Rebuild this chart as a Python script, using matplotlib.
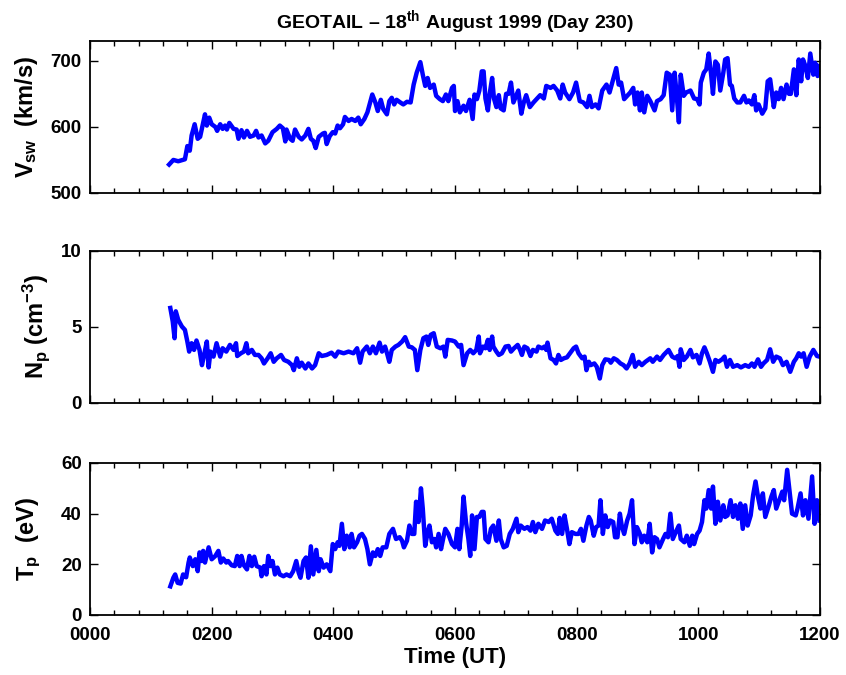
import numpy as np
import matplotlib.pyplot as plt

# Solar wind speed (km/s) versus time (hours UT)
vsw_t = [1.30, 1.37, 1.45, 1.56, 1.60, 1.64, 1.67, 1.72, 1.77, 1.81, 1.89, 1.92, 1.96, 2.00, 2.06,
         2.09, 2.14, 2.18, 2.22, 2.25, 2.29, 2.36, 2.41, 2.44, 2.49, 2.53, 2.58, 2.63, 2.69, 2.73,
         2.77, 2.82, 2.88, 2.93, 3.00, 3.07, 3.12, 3.17, 3.21, 3.23, 3.29, 3.33, 3.37, 3.43, 3.48,
         3.54, 3.59, 3.63, 3.67, 3.71, 3.76, 3.83, 3.86, 3.89, 3.94, 3.99, 4.03, 4.07, 4.11, 4.16,
         4.19, 4.25, 4.30, 4.36, 4.41, 4.45, 4.51, 4.56, 4.61, 4.64, 4.69, 4.73, 4.78, 4.82, 4.88,
         4.92, 4.96, 5.00, 5.04, 5.10, 5.15, 5.21, 5.27, 5.32, 5.37, 5.43, 5.47, 5.51, 5.55, 5.59,
         5.65, 5.69, 5.75, 5.80, 5.85, 5.89, 5.95, 5.98, 6.00, 6.04, 6.08, 6.14, 6.18, 6.24,
         6.29, 6.32, 6.36, 6.40, 6.44, 6.47, 6.50, 6.54, 6.57, 6.61, 6.64, 6.68, 6.72, 6.75, 6.80,
         6.84, 6.88, 6.92, 6.96, 7.01, 7.04, 7.09, 7.13, 7.17, 7.23, 7.29, 7.35, 7.40, 7.46, 7.50,
         7.57, 7.62, 7.68, 7.73, 7.77, 7.81, 7.88, 7.94, 7.99, 8.05, 8.11, 8.17, 8.21, 8.25, 8.31,
         8.36, 8.42, 8.49, 8.54, 8.60, 8.65, 8.69, 8.73, 8.78, 8.84, 8.88, 8.93, 8.96, 9.00, 9.04,
         9.07, 9.11, 9.16, 9.21, 9.28, 9.32, 9.38, 9.43, 9.48, 9.53, 9.57, 9.61, 9.64, 9.68, 9.71,
         9.76, 9.80, 9.87, 9.93, 9.98, 10.02, 10.04, 10.09, 10.13, 10.17, 10.21, 10.24, 10.28, 10.32,
         10.36, 10.41, 10.44, 10.48, 10.52, 10.55, 10.59, 10.64, 10.69, 10.75, 10.79, 10.83, 10.88,
         10.92, 10.95, 10.99, 11.05, 11.10, 11.14, 11.18, 11.24, 11.28, 11.32, 11.36, 11.40, 11.45,
         11.49, 11.52, 11.57, 11.61, 11.65, 11.69, 11.72, 11.76, 11.80, 11.84, 11.89, 11.92, 11.96,
         11.99]
vsw = [543, 550, 548, 551, 571, 564, 587, 604, 582, 585, 619, 602, 614, 604, 600,
       594, 604, 597, 602, 596, 606, 597, 596, 582, 595, 584, 594, 585, 587, 594,
       584, 587, 575, 579, 592, 597, 602, 598, 578, 596, 582, 579, 596, 585, 581,
       587, 597, 582, 579, 568, 585, 590, 591, 574, 586, 592, 590, 602, 598, 604,
       615, 609, 612, 609, 614, 604, 612, 622, 639, 649, 637, 624, 641, 627, 619,
       639, 644, 634, 641, 637, 634, 638, 637, 664, 682, 698, 679, 662, 674, 659,
       664, 647, 642, 639, 649, 639, 659, 662, 624, 639, 622, 632, 624, 641,
       612, 649, 642, 655, 684, 684, 643, 625, 650, 674, 643, 630, 648, 628, 625,
       650, 650, 667, 637, 648, 655, 620, 637, 648, 630, 637, 643, 648, 643, 662,
       659, 662, 655, 643, 664, 652, 642, 652, 667, 639, 637, 630, 647, 630, 634,
       628, 655, 664, 652, 672, 689, 664, 667, 642, 648, 652, 659, 634, 652, 625,
       652, 622, 647, 639, 625, 639, 642, 648, 682, 679, 625, 682, 652, 607, 679,
       647, 652, 655, 643, 642, 634, 667, 682, 687, 711, 679, 650, 699, 694,
       655, 682, 702, 704, 664, 662, 643, 637, 637, 647, 637, 640, 634,
       648, 625, 634, 620, 628, 669, 672, 630, 652, 642, 659, 642, 664,
       650, 650, 687, 648, 702, 669, 702, 692, 674, 711, 679, 697, 677,
       692]

# Proton density (cm^-3)
np_t = [1.32, 1.36, 1.39, 1.41, 1.45, 1.51, 1.56, 1.60, 1.63, 1.67, 1.71, 1.75, 1.80, 1.84, 1.87,
        1.92, 1.95, 1.98, 2.03, 2.08, 2.14, 2.18, 2.24, 2.30, 2.36, 2.40, 2.42, 2.48, 2.53, 2.57,
        2.60, 2.66, 2.71, 2.77, 2.82, 2.86, 2.92, 2.97, 3.02, 3.07, 3.14, 3.19, 3.26, 3.32, 3.35,
        3.40, 3.44, 3.48, 3.54, 3.59, 3.65, 3.70, 3.76, 3.81, 3.89, 3.97, 4.03, 4.08, 4.17, 4.25,
        4.33, 4.39, 4.44, 4.48, 4.55, 4.60, 4.65, 4.70, 4.76, 4.80, 4.85, 4.89, 4.92, 4.96, 5.02,
        5.07, 5.13, 5.18, 5.24, 5.29, 5.34, 5.38, 5.43, 5.48, 5.53, 5.56, 5.60, 5.65, 5.70, 5.76,
        5.81, 5.84, 5.88, 5.95, 6.00, 6.06, 6.10, 6.14, 6.20, 6.25,
        6.30, 6.35, 6.39, 6.41, 6.46, 6.50, 6.54, 6.57, 6.61, 6.63, 6.68, 6.72, 6.77, 6.83, 6.88,
        6.92, 6.97, 7.03, 7.07, 7.10, 7.14, 7.19, 7.24, 7.28, 7.34, 7.37, 7.43, 7.47, 7.50, 7.52,
        7.57, 7.62, 7.66, 7.70, 7.74, 7.79, 7.84, 7.89, 7.95, 7.99, 8.03, 8.09, 8.13, 8.16, 8.20,
        8.23, 8.29, 8.33, 8.38, 8.42, 8.47, 8.53, 8.56, 8.61, 8.66, 8.72, 8.77, 8.82, 8.87, 8.92,
        8.96, 9.02, 9.07, 9.13, 9.21, 9.25, 9.32, 9.37, 9.43, 9.51, 9.57, 9.62, 9.66, 9.69, 9.71,
        9.76, 9.81, 9.87, 9.91, 9.97, 10.02, 10.06, 10.10, 10.14, 10.19, 10.24, 10.28, 10.33, 10.39,
        10.43, 10.47, 10.52, 10.57, 10.64, 10.70, 10.77, 10.83, 10.88, 10.92, 10.98, 11.03, 11.07,
        11.13, 11.18, 11.23, 11.28, 11.34, 11.39, 11.45, 11.51, 11.57, 11.61, 11.65, 11.69, 11.73,
        11.78, 11.83, 11.89, 11.95, 11.99]
np_vals = [6.25, 5.36, 4.26, 6.03, 5.47, 5.03, 4.81, 4.04, 3.38, 3.93, 3.49, 4.11, 3.49, 2.49, 3.05,
           4.04, 2.34, 3.38, 3.05, 3.93, 3.05, 3.60, 3.38, 3.82, 3.49, 3.93, 3.09, 3.27, 3.38, 3.93,
           3.27, 3.49, 3.16, 3.16, 2.94, 2.60, 2.94, 3.27, 2.71, 2.94, 3.16, 2.83, 2.71, 2.49, 2.16,
           2.94, 2.38, 2.65, 2.27, 2.60, 2.27, 2.49, 3.27, 3.09, 3.16, 3.31, 3.05, 3.38, 3.27, 3.38,
           3.27, 3.60, 2.65, 3.38, 3.71, 3.27, 3.71, 3.27, 3.97, 3.38, 3.71, 3.16, 2.71, 3.49, 3.71,
           3.82, 4.04, 4.33, 3.71, 3.66, 3.49, 2.16, 3.49, 4.26, 4.37, 3.82, 4.48, 4.59, 3.71, 3.60,
           3.71, 3.05, 4.15, 4.11, 4.04, 3.71, 3.82, 2.49, 3.27, 3.49,
           3.27, 3.49, 4.37, 3.27, 3.71, 3.60, 4.15, 3.49, 4.37, 3.71, 3.38, 3.16, 3.27, 3.71, 3.75,
           3.38, 3.60, 3.82, 3.49, 3.16, 3.71, 3.60, 3.09, 3.49, 3.38, 3.71, 3.60, 3.71, 3.49, 3.97,
           2.94, 2.83, 2.60, 3.16, 2.83, 2.94, 3.00, 3.27, 3.60, 3.71, 3.27, 2.94, 3.05, 2.16, 2.71,
           2.49, 2.60, 2.38, 1.61, 2.49, 2.87, 2.83, 2.65, 2.94, 2.83, 2.60, 2.49, 2.27, 2.60, 3.16,
           2.38, 2.71, 2.49, 2.71, 2.94, 2.71, 3.05, 2.83, 3.16, 3.49, 3.05, 2.94, 3.09, 2.38, 3.53,
           2.83, 3.05, 3.49, 3.00, 3.16, 2.60, 3.27, 3.66, 3.27, 2.71, 2.05, 2.83, 2.71, 2.87,
           3.05, 2.38, 2.83, 2.38, 2.49, 2.34, 2.49, 2.38, 2.60, 2.38, 2.87, 2.38, 2.60,
           2.83, 3.53, 2.71, 3.05, 2.94, 2.49, 2.71, 2.05, 2.71, 2.94, 3.27, 3.05, 3.27,
           2.38, 3.05, 3.49, 3.09, 3.05]

# Proton temperature (eV)
tp_t = [1.32, 1.37, 1.40, 1.44, 1.49, 1.53, 1.58, 1.62, 1.64, 1.69, 1.73, 1.77, 1.80, 1.84, 1.86,
        1.89, 1.95, 2.00, 2.06, 2.11, 2.15, 2.19, 2.24, 2.27, 2.33, 2.38, 2.42, 2.46, 2.49, 2.53,
        2.58, 2.62, 2.66, 2.70, 2.74, 2.80, 2.82, 2.86, 2.90, 2.93, 2.97, 3.00, 3.04, 3.08, 3.12,
        3.18, 3.23, 3.29, 3.34, 3.39, 3.43, 3.46, 3.51, 3.55, 3.59, 3.63, 3.67, 3.72, 3.76, 3.79,
        3.84, 3.89, 3.95, 3.99, 4.03, 4.07, 4.10, 4.14, 4.18, 4.22, 4.27, 4.30, 4.34, 4.39, 4.43,
        4.47, 4.52, 4.56, 4.60, 4.65, 4.69, 4.73, 4.77, 4.81, 4.87, 4.92, 4.98, 5.03, 5.09, 5.13,
        5.16, 5.21, 5.25, 5.29, 5.33, 5.36, 5.40, 5.44, 5.47, 5.51, 5.55, 5.58, 5.62, 5.66, 5.69,
        5.73, 5.77, 5.81, 5.84, 5.89, 5.95, 6.00, 6.04, 6.07, 6.11, 6.14, 6.18, 6.22,
        6.25, 6.28, 6.32, 6.36, 6.40, 6.44, 6.47, 6.50, 6.55, 6.59, 6.63, 6.68, 6.72, 6.75, 6.80,
        6.85, 6.90, 6.95, 7.01, 7.04, 7.08, 7.14, 7.19, 7.24, 7.28, 7.32, 7.37, 7.43, 7.48, 7.54,
        7.59, 7.65, 7.69, 7.72, 7.76, 7.80, 7.84, 7.88, 7.92, 7.98, 8.03, 8.07, 8.11, 8.16, 8.20,
        8.23, 8.28, 8.32, 8.36, 8.39, 8.43, 8.47, 8.51, 8.55, 8.60, 8.63, 8.67, 8.71, 8.74, 8.78,
        8.83, 8.87, 8.91, 8.95, 8.99, 9.04, 9.07, 9.11, 9.16, 9.20, 9.24, 9.28, 9.32, 9.36, 9.42,
        9.46, 9.50, 9.54, 9.58, 9.64, 9.68, 9.71, 9.77, 9.81, 9.86, 9.90, 9.93, 9.98, 10.02, 10.06,
        10.10, 10.13, 10.17, 10.21, 10.24, 10.28, 10.32, 10.36, 10.41, 10.44, 10.48, 10.53, 10.57,
        10.61, 10.65, 10.69, 10.73, 10.77, 10.81, 10.86, 10.90, 10.94, 10.98, 11.02, 11.06, 11.10,
        11.16, 11.20, 11.24, 11.28, 11.32, 11.38, 11.41, 11.46, 11.50, 11.54, 11.60, 11.63, 11.68,
        11.72, 11.76, 11.81, 11.87, 11.91, 11.95, 11.99]
tp = [11.3, 14.7, 16.0, 12.7, 12.4, 16.0, 14.9, 20.7, 22.7, 19.3, 22.0, 17.3, 24.7, 21.3, 25.3,
      20.7, 26.7, 22.0, 23.3, 25.3, 20.7, 22.3, 20.7, 21.3, 19.6, 19.3, 23.3, 19.3, 23.3, 19.6,
      18.0, 23.3, 19.3, 23.0, 19.3, 18.7, 15.3, 19.3, 16.0, 23.3, 19.3, 21.3, 16.0, 18.7, 16.0,
      15.3, 16.0, 15.3, 17.3, 21.3, 16.7, 14.7, 21.3, 22.7, 14.7, 27.1, 16.0, 25.7, 17.3, 22.0,
      18.7, 20.0, 17.3, 28.0, 26.0, 28.7, 27.3, 36.0, 26.0, 31.3, 26.7, 32.0, 26.7, 28.7, 31.3,
      32.0, 30.0, 26.0, 20.0, 24.7, 23.3, 26.0, 23.3, 26.7, 26.7, 32.0, 34.0, 30.0, 30.7, 29.3,
      26.7, 29.3, 35.3, 32.0, 32.0, 44.7, 36.7, 50.0, 42.0, 27.3, 32.7, 35.3, 28.7, 30.0, 26.7,
      32.0, 26.0, 30.7, 34.0, 32.0, 28.0, 26.7, 34.0, 26.0, 35.3, 46.7, 36.7, 30.0,
      23.3, 39.3, 26.0, 38.7, 38.7, 40.7, 40.7, 30.0, 28.7, 34.0, 35.3, 29.3, 37.3, 30.0, 26.7,
      27.3, 32.0, 34.0, 38.0, 32.7, 35.3, 34.0, 34.7, 33.3, 36.7, 32.7, 36.0, 34.0, 37.3, 36.7,
      38.0, 33.3, 32.0, 38.3, 32.0, 39.3, 34.0, 28.0, 32.7, 32.0, 32.0, 34.0, 29.3, 35.3, 38.7,
      37.3, 31.3, 34.7, 35.3, 45.3, 32.0, 39.3, 34.7, 37.3, 36.7, 30.7, 30.7, 40.0, 35.3, 32.0,
      37.3, 40.0, 45.3, 28.0, 34.7, 32.0, 28.7, 31.3, 28.7, 36.0, 24.7, 30.7, 30.0, 26.7, 30.0,
      32.0, 30.7, 40.0, 30.0, 33.3, 35.3, 30.0, 28.7, 31.3, 27.3, 31.3, 28.0, 32.0, 33.3, 36.7,
      45.3, 42.0, 49.3, 42.0, 50.7, 36.0, 44.7, 37.3, 43.3, 38.7, 39.3, 45.3, 38.7,
      43.3, 38.0, 44.0, 34.0, 43.3, 35.3, 39.3, 47.3, 52.7, 46.7, 42.0, 48.0, 38.7,
      43.3, 46.7, 49.3, 42.0, 44.7, 48.7, 45.3, 57.3, 48.7, 40.0, 39.3, 42.0, 48.0,
      39.3, 45.3, 38.0, 54.7, 36.0, 45.3, 37.3]

hour_ticks = [0, 2, 4, 6, 8, 10, 12]
hour_labels = ['0000', '0200', '0400', '0600', '0800', '1000', '1200']

plt.rcParams['font.family'] = ['Liberation Sans', 'DejaVu Sans']
plt.rcParams['font.weight'] = 'bold'
plt.rcParams['mathtext.fontset'] = 'custom'
plt.rcParams['mathtext.rm'] = 'Liberation Sans:bold'
plt.rcParams['mathtext.it'] = 'Liberation Sans:bold'
plt.rcParams['mathtext.bf'] = 'Liberation Sans:bold'


def style_axes(ax, ylim, yticks, show_x):
    ax.set_xlim(0, 12)
    ax.set_ylim(*ylim)
    ax.set_xticks(hour_ticks)
    ax.set_xticks(np.arange(0, 12.01, 0.4), minor=True)
    ax.set_yticks(yticks)
    if show_x:
        ax.set_xticklabels(hour_labels)
    else:
        ax.set_xticklabels([])
    ax.tick_params(which='both', direction='in', top=True, right=True, width=1)
    ax.tick_params(which='major', length=6, labelsize=13.5, pad=6)
    ax.tick_params(axis='x', which='major', pad=8.5)
    ax.tick_params(which='minor', length=3.5)
    for sp in ax.spines.values():
        sp.set_linewidth(1.3)


fig = plt.figure(figsize=(8.46, 6.75), dpi=100)
left, width, height = 0.1064, 0.8629, 0.2252
ax1 = fig.add_axes([left, 0.7141, width, height])
ax2 = fig.add_axes([left, 0.4030, width, height])
ax3 = fig.add_axes([left, 0.0889, width, height])

ax1.plot(vsw_t, vsw, color='#0000ff', linewidth=3.2)
ax2.plot(np_t, np_vals, color='#0000ff', linewidth=3.2)
ax3.plot(tp_t, tp, color='#0000ff', linewidth=3.2)

style_axes(ax1, (500, 730), [500, 600, 700], False)
style_axes(ax2, (0, 10), [0, 5, 10], False)
style_axes(ax3, (0, 60), [0, 20, 40, 60], True)

ax1.set_title(r'GEOTAIL – 18$^{\rm th}$ August 1999 (Day 230)', fontsize=14,
              fontweight='bold', pad=9)
ax1.set_ylabel(r'$V_{sw}$  (km/s)', fontsize=17, fontweight='bold')
ax2.set_ylabel(r'$N_p$ (cm$^{-3}$)', fontsize=17, fontweight='bold')
ax3.set_ylabel(r'$T_p$  (eV)', fontsize=17, fontweight='bold')
ax1.yaxis.set_label_coords(-0.068, 0.5)
ax2.yaxis.set_label_coords(-0.052, 0.5)
ax3.yaxis.set_label_coords(-0.064, 0.5)
ax3.set_xlabel('Time (UT)', fontsize=16, fontweight='bold', labelpad=2)

fig.savefig('out.png', dpi=100)
